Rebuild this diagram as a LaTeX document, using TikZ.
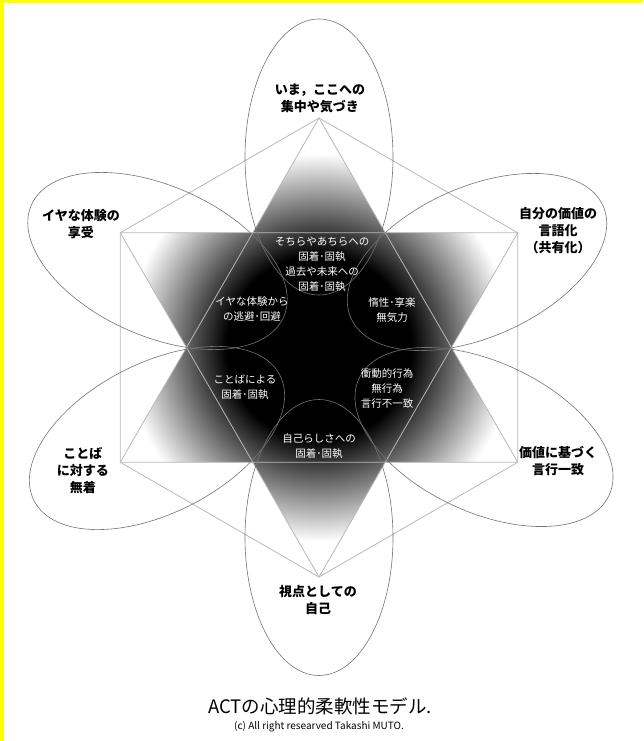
\documentclass[tikz,border=0pt]{standalone}
\usepackage{fontspec}
\setmainfont{Noto Sans CJK JP}
\pgfdeclareradialshading{glow}{\pgfpoint{0bp}{0bp}}{color(0bp)=(black); color(10bp)=(black); color(21bp)=(white); color(25bp)=(white); color(50bp)=(white)}
\definecolor{ringgray}{gray}{0.45}
\definecolor{stargray}{gray}{0.72}
\definecolor{edgeyellow}{RGB}{255,255,0}

\begin{document}
\begin{tikzpicture}[x=1pt,y=1pt,
  ring/.style={draw=ringgray,line width=0.6pt},
  starline/.style={draw=stargray,line width=0.8pt},
  outer/.style={font=\bfseries\fontsize{13}{17}\selectfont,align=center},
  inner/.style={text=white,font=\fontsize{10.5}{15}\selectfont,align=center}]
\useasboundingbox (-319,-393.5) rectangle (324,347.5);
\fill[edgeyellow] (-319,-393.5) rectangle (-315,347.5);
\fill[edgeyellow] (-319,344.5) rectangle (324,347.5);
% points of the star
\coordinate (O) at (0,0);
\coordinate (T) at (90:229.5);
\coordinate (TR) at (30:229.5);
\coordinate (BR) at (-30:229.5);
\coordinate (B) at (-90:229.5);
\coordinate (BL) at (-150:229.5);
\coordinate (TL) at (150:229.5);
% shaded star
\begin{scope}
\clip (T) -- (BL) -- (BR) -- cycle (B) -- (TR) -- (TL) -- cycle;
\shade[shading=glow] (O) circle (231);
\end{scope}
\draw[starline] (T) -- (TR) -- (BR) -- (B) -- (BL) -- (TL) -- cycle;
\draw[starline] (T) -- (BL) -- (BR) -- cycle;
\draw[starline] (B) -- (TR) -- (TL) -- cycle;
% six ellipses
\coordinate (eT) at (0,190.5);
\coordinate (eB) at (0,-190);
\coordinate (eTL) at (-161.5,86.5);
\coordinate (eTR) at (158,85.5);
\coordinate (eBL) at (-162,-90.5);
\coordinate (eBR) at (165,-89.5);
\draw[ring] (eT) ellipse [x radius=74, y radius=138];
\draw[ring] (eB) ellipse [x radius=74, y radius=138];
\draw[ring,rotate around={-24:(eTL)}] (eTL) ellipse [x radius=138, y radius=75];
\draw[ring,rotate around={24:(eTR)}] (eTR) ellipse [x radius=138, y radius=75];
\draw[ring,rotate around={27:(eBL)}] (eBL) ellipse [x radius=138, y radius=75];
\draw[ring,rotate around={-25:(eBR)}] (eBR) ellipse [x radius=138, y radius=75];
% outer labels
\node[outer] (now) at (1,249) {いま，ここへの\\集中や気づき};
\node[outer] (accept) at (-238,123.5) {イヤな体験の\\享受};
\node[outer] (values) at (239,116.5) {自分の価値の\\言語化\\（共有化）};
\node[outer] (defuse) at (-236,-123.5) {ことば\\に対する\\無着};
\node[outer] (commit) at (239,-114) {価値に基づく\\言行一致};
\node[outer] (self) at (-1,-252.5) {視点としての\\自己};
% inner labels
\node[inner] (past) at (3,83) {そちらやあちらへの\\固着･固執\\過去や未来への\\固着･固執};
\node[inner] (avoid) at (-67,38) {イヤな体験から\\の逃避･回避};
\node[inner] (inert) at (73,37.5) {惰性･享楽\\無気力};
\node[inner] (fusion) at (-74,-39.5) {ことばによる\\固着･固執};
\node[inner] (impulse) at (68,-41) {衝動的行為\\無行為\\言行不一致};
\node[inner] (story) at (0,-99) {自己らしさへの\\固着･固執};
% caption
\node[font=\fontsize{18.5}{20}\selectfont] (title) at (1,-358.5) {ACTの心理的柔軟性モデル.};
\node[font=\fontsize{10}{12}\selectfont] (copy) at (0,-379.5) {(c) All right researved Takashi MUTO.};
\end{tikzpicture}
\end{document}
